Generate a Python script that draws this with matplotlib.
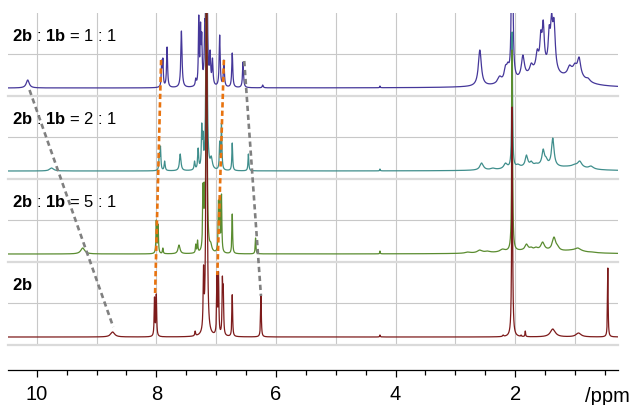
import numpy as np
import matplotlib
matplotlib.use("Agg")
import matplotlib.pyplot as plt

plt.rcParams['font.family'] = 'Liberation Sans'
plt.rcParams['mathtext.fontset'] = 'custom'
plt.rcParams['mathtext.rm'] = 'Liberation Sans'
plt.rcParams['mathtext.bf'] = 'Liberation Sans:bold'

# peak lists: position /ppm, apparent height (arb.), half width /ppm
# 2b (bottom trace)
red_ppm = [8.73, 8.03, 8.00, 7.35, 7.21, 7.16, 7.13, 6.985, 6.96, 6.895, 6.88, 6.73, 6.25,
           4.26, 2.20, 2.05, 1.90, 1.83, 1.37, 0.94, 0.45]
red_h = [5, 40, 43, 5, 66, 600, 12, 62, 64, 60, 52, 42, 41,
         2, 2, 230, 2, 6, 8, 4, 69]
red_w = [0.04, 0.007, 0.007, 0.008, 0.008, 0.008, 0.04, 0.007, 0.007, 0.007, 0.007, 0.007, 0.007,
         0.006, 0.01, 0.008, 0.006, 0.006, 0.05, 0.05, 0.006]
red_bg = ([], [], [])

# 2b : 1b = 5 : 1
green_ppm = [9.23, 8.00, 7.97, 7.89, 7.62, 7.34, 7.31, 7.22, 7.20, 7.16, 7.09, 6.96, 6.94, 6.91,
             6.73, 6.34, 4.26, 2.79, 2.59, 2.46, 2.21, 2.05, 1.81, 1.73, 1.65, 1.54, 1.35, 1.29,
             0.95, 0.70]
green_h = [6, 34, 30, 6, 9, 10, 14, 71, 72, 400, 12, 54, 56, 60,
           40, 16, 3, 2, 4, 3, 5, 204, 10, 7, 7, 12, 17, 9,
           6, 2]
green_w = [0.04, 0.007, 0.007, 0.007, 0.02, 0.007, 0.007, 0.007, 0.007, 0.008, 0.02, 0.007, 0.007, 0.007,
           0.007, 0.007, 0.005, 0.05, 0.05, 0.05, 0.05, 0.008, 0.03, 0.03, 0.03, 0.035, 0.035, 0.03,
           0.05, 0.05]
green_bg = ([1.7, 1.0], [3.5, 2.5], [0.5, 0.2])

# 2b : 1b = 2 : 1
teal_ppm = [9.75, 7.95, 7.93, 7.86, 7.60, 7.36, 7.30, 7.24, 7.22, 7.16, 7.08, 6.94, 6.91, 6.73,
            6.46, 4.26, 2.56, 2.37, 2.16, 2.05, 1.95, 1.81, 1.73, 1.65, 1.53, 1.48, 1.37, 1.15,
            1.00, 0.92, 0.73]
teal_h = [3, 18, 25, 10, 17, 10, 23, 48, 40, 400, 15, 30, 48, 28,
          17, 2, 8, 3, 8, 139, 7, 16, 10, 8, 22, 14, 33, 5,
          7, 10, 5]
teal_w = [0.04, 0.008, 0.008, 0.01, 0.015, 0.01, 0.01, 0.008, 0.008, 0.008, 0.02, 0.008, 0.008, 0.008,
          0.008, 0.005, 0.035, 0.04, 0.035, 0.008, 0.035, 0.025, 0.025, 0.03, 0.025, 0.025, 0.025, 0.045,
          0.04, 0.04, 0.045]
teal_bg = ([1.6, 1.0], [5, 3], [0.4, 0.2])

# 2b : 1b = 1 : 1
purple_ppm = [10.15, 7.91, 7.89, 7.82, 7.58, 7.34, 7.29, 7.26, 7.24, 7.19, 7.16, 7.10, 7.06, 6.94,
              6.87, 6.73, 6.55, 6.22, 4.26, 2.59, 2.26, 2.16, 2.12, 2.05, 1.87, 1.73, 1.63, 1.57,
              1.53, 1.43, 1.39, 1.35, 1.09, 1.00, 0.93, 0.78]
purple_h = [8, 28, 30, 41, 57, 10, 73, 66, 56, 68, 400, 38, 30, 53,
            28, 35, 26, 3, 2, 38, 12, 23, 26, 300, 33, 25, 39, 58,
            68, 63, 75, 70, 23, 25, 31, 10]
purple_w = [0.03, 0.008, 0.008, 0.01, 0.012, 0.01, 0.008, 0.008, 0.008, 0.008, 0.008, 0.01, 0.01, 0.01,
            0.01, 0.01, 0.01, 0.01, 0.005, 0.03, 0.04, 0.03, 0.025, 0.01, 0.03, 0.03, 0.025, 0.02,
            0.02, 0.02, 0.02, 0.025, 0.035, 0.03, 0.03, 0.04]
purple_bg = ([1.55, 1.0], [18, 12], [0.3, 0.15])

labels = [r"$\mathbf{2b}$ : $\mathbf{1b}$ = 1 : 1",
          r"$\mathbf{2b}$ : $\mathbf{1b}$ = 2 : 1",
          r"$\mathbf{2b}$ : $\mathbf{1b}$ = 5 : 1",
          r"$\mathbf{2b}$"]
colors = ['#45379a', '#3f8e8c', '#5a8c30', '#7d1b1b']
offsets = [249, 166, 83, 0]

# guide lines linking shifted peaks (ppm, y) top -> bottom
orange_left = ([7.92, 8.02], [277, 44])
orange_right = ([6.87, 6.98], [277, 62])
gray_left = ([10.12, 8.72], [247, 10])
gray_right = ([6.53, 6.25], [276, 41])

x = np.linspace(0.25, 10.5, 30000)


def lor(xx, p, a, g):
    return a * g**2 / ((xx - p)**2 + g**2)


def spectrum(ppm, h, w, bg):
    p = np.array(ppm, float)
    g = np.array(w, float)
    base_x = np.zeros_like(x)
    base_p = np.zeros_like(p)
    for bp, ba, bw in zip(*bg):
        base_x += lor(x, bp, ba, bw)
        base_p += lor(p, bp, ba, bw)
    # amplitudes chosen so the summed trace has the read heights at each peak
    m = g[None, :]**2 / ((p[:, None] - p[None, :])**2 + g[None, :]**2)
    amp = np.clip(np.linalg.solve(m, np.array(h, float) - base_p), 0, None)
    y = base_x
    for pi, a, gi in zip(p, amp, g):
        y = y + lor(x, pi, a, gi)
    return y


fig = plt.figure(figsize=(6.36, 4.05), dpi=100)
ax = fig.add_axes([8/636, 1 - 345/405, 610/636, 332/405])

# grid
for xv in range(1, 11):
    ax.axvline(xv, color='#c8c8c8', lw=0.8, zorder=0)
for off in offsets:
    ax.axhline(off + 34, color='#c8c8c8', lw=0.8, zorder=0)
    ax.axhline(off - 8, color='#dadada', lw=1.6, zorder=0, clip_on=False)

peaks = [(purple_ppm, purple_h, purple_w, purple_bg), (teal_ppm, teal_h, teal_w, teal_bg),
         (green_ppm, green_h, green_w, green_bg), (red_ppm, red_h, red_w, red_bg)]
for (pp, hh, ww, bg), c, off, lab in zip(peaks, colors, offsets, labels):
    ax.plot(x, spectrum(pp, hh, ww, bg) + off, color=c, lw=0.9)
    ax.text(4/610, off + 52, lab, transform=ax.get_yaxis_transform(),
            fontsize=12, va='center', ha='left')

for xs, ys in [orange_left, orange_right]:
    ax.plot(xs, ys, color='#e8730f', lw=1.9, dashes=(2, 1.2), zorder=5)
for xs, ys in [gray_left, gray_right]:
    ax.plot(xs, ys, color='#808080', lw=1.9, dashes=(2, 1.4), zorder=5)

ax.set_xlim(10.48, 0.28)
ax.set_ylim(-8, 324)
ax.set_yticks([])
for s in ['left', 'right', 'top']:
    ax.spines[s].set_visible(False)
ax.spines['bottom'].set_position(('outward', 18))
ax.spines['bottom'].set_linewidth(0.9)
ax.set_xticks([10, 8, 6, 4, 2])
ax.set_xticks(np.arange(0.5, 10.5, 0.5), minor=True)
ax.tick_params(axis='x', which='major', length=5, width=0.9, labelsize=14.5, pad=6)
ax.tick_params(axis='x', which='minor', length=3.5, width=0.9)

fig.text(585/636, 3.5/405, '/ppm', fontsize=14.5, ha='left', va='baseline')

fig.savefig('out.png', dpi=100)
